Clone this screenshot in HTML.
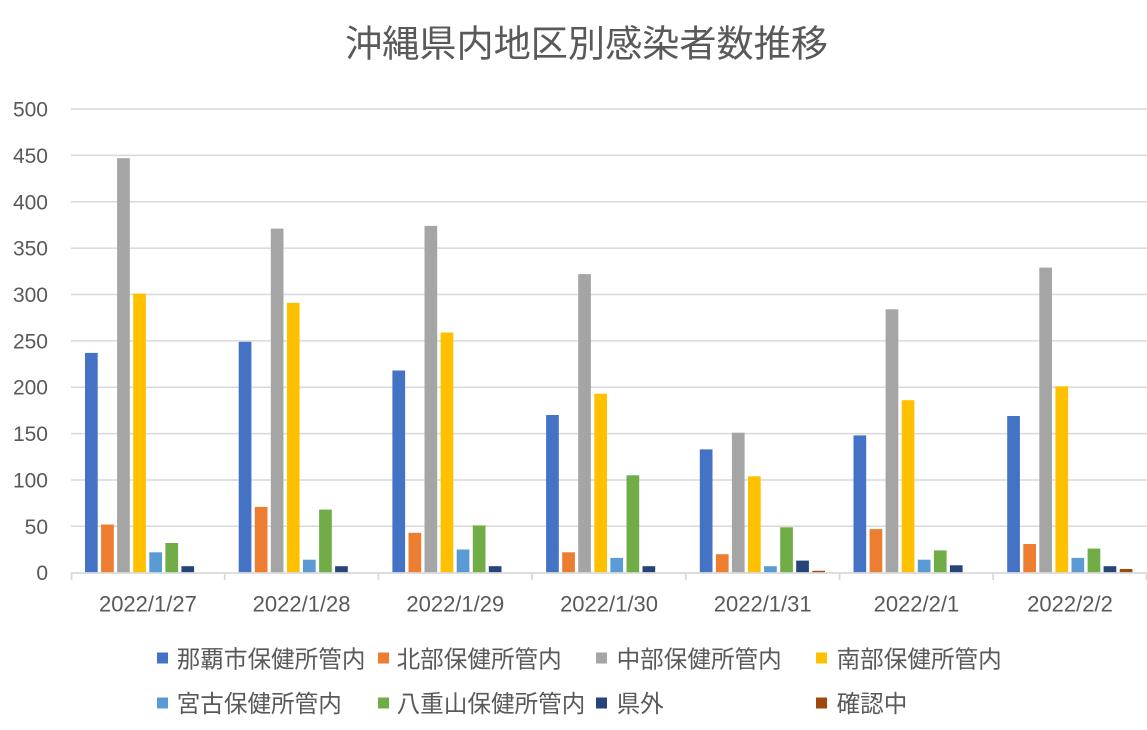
<!DOCTYPE html>
<html>
<head>
<meta charset="utf-8">
<style>
html,body{margin:0;padding:0;background:#fff;}
svg{display:block;}
.t{font-family:"Liberation Sans","Noto Sans CJK JP",sans-serif;fill:#595959;}
</style>
</head>
<body>
<svg width="1147" height="730" viewBox="0 0 1147 730" xmlns="http://www.w3.org/2000/svg">
<rect x="0" y="0" width="1147" height="730" fill="#fff"/>
<!-- title -->
<text class="t" x="345" y="56.5" font-size="37" textLength="483" lengthAdjust="spacingAndGlyphs">沖縄県内地区別感染者数推移</text>
<!-- gridlines -->
<g stroke="#d9d9d9" stroke-width="1.5">
<line x1="71" x2="1147" y1="109" y2="109"/>
<line x1="71" x2="1147" y1="155.4" y2="155.4"/>
<line x1="71" x2="1147" y1="201.8" y2="201.8"/>
<line x1="71" x2="1147" y1="248.1" y2="248.1"/>
<line x1="71" x2="1147" y1="294.5" y2="294.5"/>
<line x1="71" x2="1147" y1="340.9" y2="340.9"/>
<line x1="71" x2="1147" y1="387.2" y2="387.2"/>
<line x1="71" x2="1147" y1="433.6" y2="433.6"/>
<line x1="71" x2="1147" y1="480" y2="480"/>
<line x1="71" x2="1147" y1="526.3" y2="526.3"/>
</g>
<!-- y labels -->
<g class="t" font-size="21" text-anchor="end">
<text x="48" y="116.5">500</text>
<text x="48" y="162.9">450</text>
<text x="48" y="209.3">400</text>
<text x="48" y="255.6">350</text>
<text x="48" y="302">300</text>
<text x="48" y="348.4">250</text>
<text x="48" y="394.7">200</text>
<text x="48" y="441.1">150</text>
<text x="48" y="487.5">100</text>
<text x="48" y="533.8">50</text>
<text x="48" y="580.2">0</text>
</g>
<!-- bars -->
<g transform="translate(0,572.7) scale(1,-1)">
<!-- G1 -->
<g transform="translate(85,0)">
<rect x="0" y="0" width="12.7" height="219.8" fill="#4472C4"/>
<rect x="16.1" y="0" width="12.7" height="48.2" fill="#ED7D31"/>
<rect x="32.1" y="0" width="12.7" height="414.5" fill="#A5A5A5"/>
<rect x="48.2" y="0" width="12.7" height="279.1" fill="#FFC000"/>
<rect x="64.3" y="0" width="12.7" height="20.4" fill="#5B9BD5"/>
<rect x="80.4" y="0" width="12.7" height="29.7" fill="#70AD47"/>
<rect x="96.4" y="0" width="12.7" height="6.5" fill="#264478"/>
</g>
<!-- G2 -->
<g transform="translate(238.7,0)">
<rect x="0" y="0" width="12.7" height="230.9" fill="#4472C4"/>
<rect x="16.1" y="0" width="12.7" height="65.8" fill="#ED7D31"/>
<rect x="32.1" y="0" width="12.7" height="344.1" fill="#A5A5A5"/>
<rect x="48.2" y="0" width="12.7" height="269.9" fill="#FFC000"/>
<rect x="64.3" y="0" width="12.7" height="13" fill="#5B9BD5"/>
<rect x="80.4" y="0" width="12.7" height="63.1" fill="#70AD47"/>
<rect x="96.4" y="0" width="12.7" height="6.5" fill="#264478"/>
</g>
<!-- G3 -->
<g transform="translate(392.4,0)">
<rect x="0" y="0" width="12.7" height="202.2" fill="#4472C4"/>
<rect x="16.1" y="0" width="12.7" height="39.9" fill="#ED7D31"/>
<rect x="32.1" y="0" width="12.7" height="346.8" fill="#A5A5A5"/>
<rect x="48.2" y="0" width="12.7" height="240.2" fill="#FFC000"/>
<rect x="64.3" y="0" width="12.7" height="23.2" fill="#5B9BD5"/>
<rect x="80.4" y="0" width="12.7" height="47.3" fill="#70AD47"/>
<rect x="96.4" y="0" width="12.7" height="6.5" fill="#264478"/>
</g>
<!-- G4 -->
<g transform="translate(546.1,0)">
<rect x="0" y="0" width="12.7" height="157.7" fill="#4472C4"/>
<rect x="16.1" y="0" width="12.7" height="20.4" fill="#ED7D31"/>
<rect x="32.1" y="0" width="12.7" height="298.6" fill="#A5A5A5"/>
<rect x="48.2" y="0" width="12.7" height="179" fill="#FFC000"/>
<rect x="64.3" y="0" width="12.7" height="14.8" fill="#5B9BD5"/>
<rect x="80.4" y="0" width="12.7" height="97.4" fill="#70AD47"/>
<rect x="96.4" y="0" width="12.7" height="6.5" fill="#264478"/>
</g>
<!-- G5 -->
<g transform="translate(699.8,0)">
<rect x="0" y="0" width="12.7" height="123.3" fill="#4472C4"/>
<rect x="16.1" y="0" width="12.7" height="18.5" fill="#ED7D31"/>
<rect x="32.1" y="0" width="12.7" height="140" fill="#A5A5A5"/>
<rect x="48.2" y="0" width="12.7" height="96.4" fill="#FFC000"/>
<rect x="64.3" y="0" width="12.7" height="6.5" fill="#5B9BD5"/>
<rect x="80.4" y="0" width="12.7" height="45.4" fill="#70AD47"/>
<rect x="96.4" y="0" width="12.7" height="12.1" fill="#264478"/>
<rect x="112.5" y="0" width="12.7" height="1.9" fill="#9E480E"/>
</g>
<!-- G6 -->
<g transform="translate(853.5,0)">
<rect x="0" y="0" width="12.7" height="137.3" fill="#4472C4"/>
<rect x="16.1" y="0" width="12.7" height="43.6" fill="#ED7D31"/>
<rect x="32.1" y="0" width="12.7" height="263.4" fill="#A5A5A5"/>
<rect x="48.2" y="0" width="12.7" height="172.5" fill="#FFC000"/>
<rect x="64.3" y="0" width="12.7" height="13" fill="#5B9BD5"/>
<rect x="80.4" y="0" width="12.7" height="22.3" fill="#70AD47"/>
<rect x="96.4" y="0" width="12.7" height="7.4" fill="#264478"/>
</g>
<!-- G7 -->
<g transform="translate(1007.2,0)">
<rect x="0" y="0" width="12.7" height="156.7" fill="#4472C4"/>
<rect x="16.1" y="0" width="12.7" height="28.7" fill="#ED7D31"/>
<rect x="32.1" y="0" width="12.7" height="305.1" fill="#A5A5A5"/>
<rect x="48.2" y="0" width="12.7" height="186.4" fill="#FFC000"/>
<rect x="64.3" y="0" width="12.7" height="14.8" fill="#5B9BD5"/>
<rect x="80.4" y="0" width="12.7" height="24.1" fill="#70AD47"/>
<rect x="96.4" y="0" width="12.7" height="6.5" fill="#264478"/>
<rect x="112.5" y="0" width="12.7" height="3.7" fill="#9E480E"/>
</g>
</g>
<!-- axis -->
<g stroke="#d9d9d9" stroke-width="1.8">
<line x1="71" x2="1147" y1="573" y2="573"/>
<line x1="71.5" x2="71.5" y1="573" y2="580"/>
<line x1="224.7" x2="224.7" y1="573" y2="580"/>
<line x1="378.4" x2="378.4" y1="573" y2="580"/>
<line x1="532.1" x2="532.1" y1="573" y2="580"/>
<line x1="685.8" x2="685.8" y1="573" y2="580"/>
<line x1="839.5" x2="839.5" y1="573" y2="580"/>
<line x1="993.2" x2="993.2" y1="573" y2="580"/>
<line x1="1146.5" x2="1146.5" y1="573" y2="580"/>
</g>
<!-- x labels -->
<g class="t" font-size="22" text-anchor="middle">
<text x="147.9" y="611.7">2022/1/27</text>
<text x="301.6" y="611.7">2022/1/28</text>
<text x="455.3" y="611.7">2022/1/29</text>
<text x="609" y="611.7">2022/1/30</text>
<text x="762.7" y="611.7">2022/1/31</text>
<text x="916.4" y="611.7">2022/2/1</text>
<text x="1070" y="611.7">2022/2/2</text>
</g>
<!-- legend -->
<g>
<rect x="157" y="652.5" width="11" height="11" fill="#4472C4"/>
<rect x="378" y="652.5" width="11" height="11" fill="#ED7D31"/>
<rect x="596" y="652.5" width="11" height="11" fill="#A5A5A5"/>
<rect x="816" y="652.5" width="11" height="11" fill="#FFC000"/>
<rect x="157" y="697.5" width="11" height="11" fill="#5B9BD5"/>
<rect x="378" y="697.5" width="11" height="11" fill="#70AD47"/>
<rect x="596" y="697.5" width="11" height="11" fill="#264478"/>
<rect x="816" y="697.5" width="11" height="11" fill="#9E480E"/>
</g>
<g class="t" font-size="23.6">
<text x="176.7" y="667.5">那覇市保健所管内</text>
<text x="396.6" y="667.5">北部保健所管内</text>
<text x="616.6" y="667.5">中部保健所管内</text>
<text x="836.6" y="667.5">南部保健所管内</text>
<text x="176.7" y="712">宮古保健所管内</text>
<text x="396.6" y="712">八重山保健所管内</text>
<text x="616.6" y="712">県外</text>
<text x="836.6" y="712">確認中</text>
</g>
</svg>
</body>
</html>
